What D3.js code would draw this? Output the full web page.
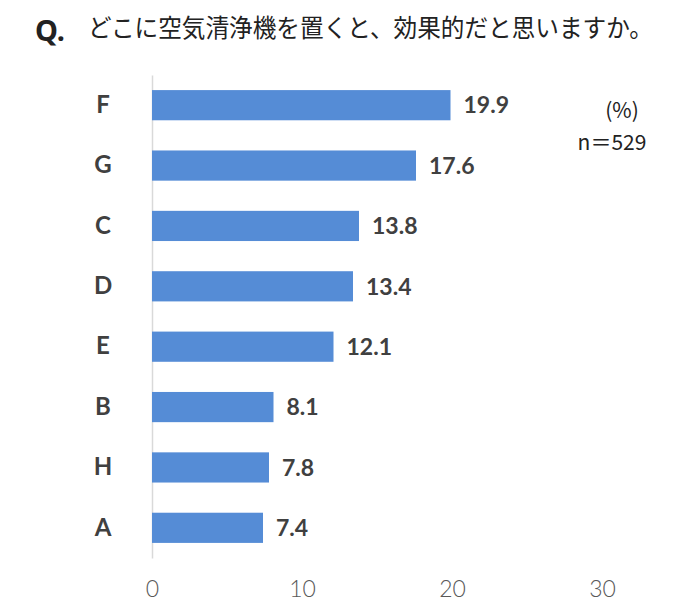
<!DOCTYPE html>
<html>
<head>
<meta charset="utf-8">
<script src="https://cdn.jsdelivr.net/npm/d3@7"></script>
<style>
body { margin: 0; background: #fff; }
svg { display: block; }
.cat text { font-family: Lato, "Noto Sans", sans-serif; font-weight: bold; font-size: 24px; fill: #404040; }
.xaxis text { font-family: Lato, "Noto Sans", sans-serif; font-weight: 300; font-size: 23px; fill: #595959; }
</style>
</head>
<body>
<div class="chart"></div>
<script>
const categories = ["F", "G", "C", "D", "E", "B", "H", "A"];
const values = [19.9, 17.6, 13.8, 13.4, 12.1, 8.1, 7.8, 7.4];
const xTicks = [0, 10, 20, 30];

const width = 700, height = 606;

const svg = d3.select(".chart").append("svg")
	.attr("width", width)
	.attr("height", height);

// title
svg.append("text")
	.attr("x", 35).attr("y", 41)
	.style("font-family", "'Noto Sans', sans-serif")
	.style("font-weight", "bold")
	.style("font-size", "29px")
	.style("fill", "#222")
	.text("Q.");

svg.append("text")
	.attr("x", 88).attr("y", 37)
	.attr("textLength", 565)
	.attr("lengthAdjust", "spacingAndGlyphs")
	.style("font-family", "'Noto Sans CJK JP', sans-serif")
	.style("font-size", "25px")
	.style("fill", "#222")
	.text("どこに空気清浄機を置くと、効果的だと思いますか。");

let xScale = d3.scaleLinear()
	.domain([0, 30])
	.range([152, 602]);

let yScale = d3.scaleBand()
	.domain(categories)
	.range([75, 558])
	.paddingInner(0.5)
	.paddingOuter(0.25);

// vertical axis line + category letters
let yG = svg.append("g")
	.attr("class", "cat")
	.attr("transform", "translate(" + xScale(0) + ",0)")
	.call(d3.axisLeft(yScale).tickSize(0).tickPadding(0));

yG.select(".domain").attr("stroke", "#d9d9d9").attr("stroke-width", 1.5);
yG.selectAll("text")
	.attr("text-anchor", "middle")
	.attr("x", 103 - xScale(0));

// bottom tick labels, no line
let xG = svg.append("g")
	.attr("class", "xaxis")
	.attr("transform", "translate(0,558)")
	.call(d3.axisBottom(xScale).tickValues(xTicks).tickSize(0).tickPadding(23));

xG.select(".domain").remove();

// bars
svg.selectAll("rect.bar")
	.data(categories)
	.enter().append("rect")
	.attr("class", "bar")
	.attr("x", xScale(0))
	.attr("y", d => yScale(d))
	.attr("width", (d, i) => xScale(values[i]) - xScale(0))
	.attr("height", yScale.bandwidth())
	.attr("fill", "#558cd6");

// value labels
svg.selectAll("text.val")
	.data(categories)
	.enter().append("text")
	.attr("class", "val")
	.attr("x", (d, i) => xScale(values[i]) + 13)
	.attr("y", d => yScale(d) + yScale.bandwidth() / 2)
	.attr("dy", "0.36em")
	.style("font-family", "Lato, 'Noto Sans', sans-serif")
	.style("font-weight", "bold")
	.style("font-size", "23px")
	.style("fill", "#404040")
	.text((d, i) => values[i].toFixed(1));

// unit + sample size
svg.append("text")
	.attr("x", 622).attr("y", 118)
	.attr("text-anchor", "middle")
	.style("font-family", "'Noto Sans CJK JP', sans-serif")
	.style("font-size", "21px")
	.style("fill", "#222")
	.text("(%)");

svg.append("text")
	.attr("x", 612).attr("y", 150)
	.attr("text-anchor", "middle")
	.style("font-family", "'Noto Sans CJK JP', sans-serif")
	.style("font-size", "21px")
	.style("fill", "#222")
	.text("n＝529");
</script>
</body>
</html>
